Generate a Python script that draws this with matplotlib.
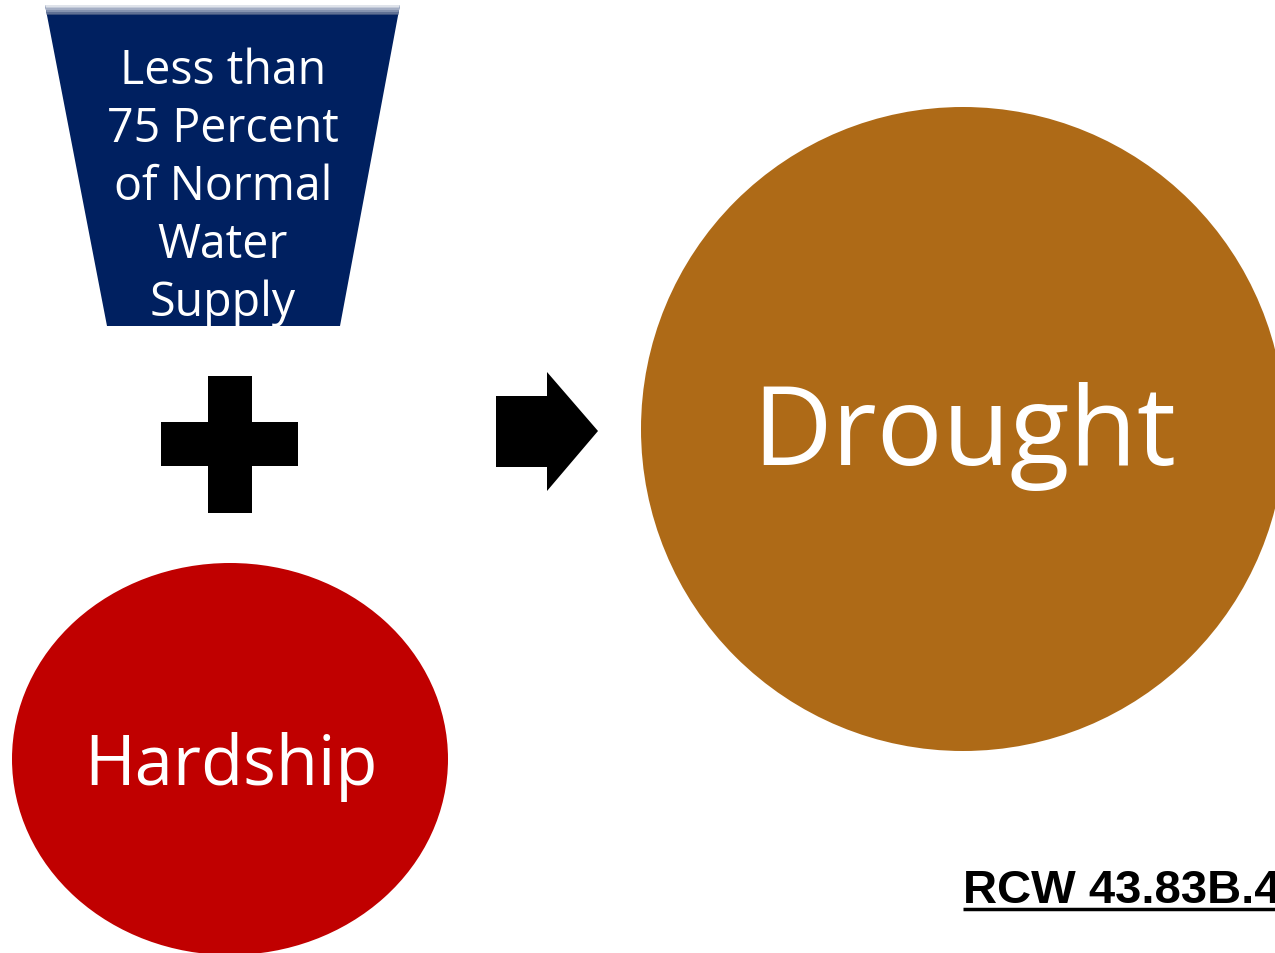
import matplotlib.pyplot as plt
from matplotlib.patches import Polygon, Ellipse, Rectangle

# texts of the diagram
supply_lines = ["Less than", "75 Percent", "of Normal", "Water", "Supply"]
hardship_label = "Hardship"
result_label = "Drought"
source_label = "RCW 43.83B.4"

navy = "#002060"
red = "#C00000"
brown = "#AE6A17"

W, H = 1275, 954
fig = plt.figure(figsize=(W / 100, H / 100), dpi=100)
ax = fig.add_axes([0, 0, 1, 1])
ax.set_xlim(0, W)
ax.set_ylim(H, 0)
ax.axis("off")

# trapezoid with a light strip on top
trap = Polygon([(45, 6), (400, 6), (340, 327), (107, 327)], closed=True,
               facecolor=navy, edgecolor="none")
ax.add_patch(trap)
strip = ["#dfe3ea", "#c3cad8", "#a4aec4", "#8593b0", "#5f7094", "#3a4f7c"]
for i, c in enumerate(strip):
    r = Rectangle((0, 6 + i * 1.7), W, 1.8, facecolor=c, edgecolor="none")
    r.set_clip_path(trap)
    ax.add_patch(r)

for i, line in enumerate(supply_lines):
    ax.text(223, 84 + i * 58, line, color="white", fontsize=33.5,
            family="Open Sans", ha="center", va="baseline")

# plus sign
ax.add_patch(Rectangle((208, 377), 44, 137, facecolor="black", edgecolor="none"))
ax.add_patch(Rectangle((161, 423), 137, 44, facecolor="black", edgecolor="none"))

# arrow
ax.add_patch(Polygon([(496, 397), (547, 397), (547, 373), (598, 432),
                      (547, 492), (547, 468), (496, 468)], closed=True,
                     facecolor="black", edgecolor="none"))

# hardship ellipse
ax.add_patch(Ellipse((230, 760), 436, 392, facecolor=red, edgecolor="none"))
ax.text(231, 785, hardship_label, color="white", fontsize=49.5,
        family="Open Sans", ha="center", va="baseline")

# drought circle
ax.add_patch(Ellipse((963, 430), 644, 644, facecolor=brown, edgecolor="none"))
ax.text(964, 465, result_label, color="white", fontsize=79,
        family="Open Sans", ha="center", va="baseline")

# source reference, underlined (runs off the right edge as in the original)
ax.text(963, 903, source_label, color="black", fontsize=34, fontweight="bold",
        family="Liberation Sans", ha="left", va="baseline")
ax.plot([963, W], [910, 910], color="black", linewidth=2.5, solid_capstyle="butt")

fig.savefig("out.png", dpi=100)
